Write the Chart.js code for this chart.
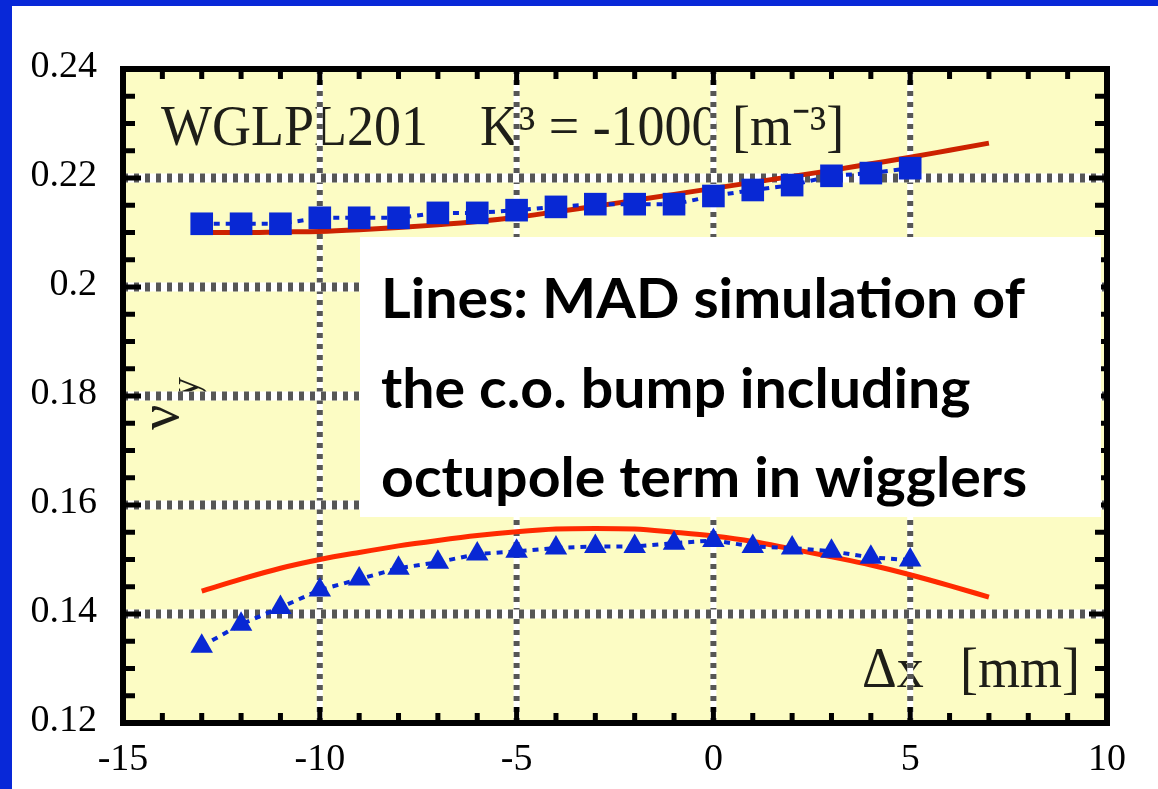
<!DOCTYPE html>
<html>
<head>
<meta charset="utf-8">
<title>WGLPL201 tune vs bump</title>
<script src="https://cdn.jsdelivr.net/npm/chart.js@4/dist/chart.umd.min.js"></script>
<style>
  html, body { margin: 0; padding: 0; background: #fff; }
  #frame {
    width: 1158px;
    height: 789px;
    box-sizing: border-box;
    border-top: 6px solid #0828d8;
    border-left: 12px solid #0828d8;
    background: #fff;
  }
  canvas { display: block; }
</style>
</head>
<body>
<div id="frame"><canvas id="tuneChart" width="1146" height="783"></canvas></div>
<script>
// measured points: bump amplitude [mm]
const bumpX = [-13, -12, -11, -10, -9, -8, -7, -6, -5, -4, -3, -2, -1, 0, 1, 2, 3, 4, 5];
const tuneSquares = [
  0.2116, 0.2116, 0.2116, 0.2127, 0.2127, 0.2127, 0.2136, 0.2136, 0.2141, 0.2147,
  0.2152, 0.2152, 0.2152, 0.2167, 0.2178, 0.2187, 0.2204, 0.2209, 0.2218,
];
const tuneTriangles = [
  0.1341, 0.1381, 0.1412, 0.1444, 0.1464, 0.1484, 0.1495, 0.151, 0.1515, 0.1521,
  0.1524, 0.1524, 0.153, 0.1535, 0.1524, 0.1521, 0.1515, 0.1504, 0.1499,
];

// MAD simulation
const madX = [-13, -12, -11, -10, -9, -8, -7, -6, -5, -4, -3, -2, -1, 0, 1, 2, 3, 4, 5, 6, 7];
const madUpper = [
  0.21, 0.21, 0.2101, 0.2102, 0.2105, 0.2109, 0.2114, 0.212, 0.2128, 0.2138, 0.2148,
  0.2159, 0.217, 0.2181, 0.2192, 0.2203, 0.2214, 0.2226, 0.2238, 0.2251, 0.2264,
];
const madLower = [
  0.1442, 0.1464, 0.1484, 0.15, 0.1513, 0.1525, 0.1535, 0.1544, 0.1551, 0.1556, 0.1557,
  0.1556, 0.155, 0.1543, 0.1533, 0.1519, 0.1505, 0.149, 0.1472, 0.1452, 0.1431,
];

// axes
const xTicks = [-15, -10, -5, 0, 5, 10];
const yTicks = [0.12, 0.14, 0.16, 0.18, 0.2, 0.22, 0.24];
const xMinorStep = 1;
const yMinorStep = 0.005;

const noteLines = [
  "Lines: MAD simulation of",
  "the c.o. bump including",
  "octupole term in wigglers",
];

const blue = "#0828d4";
const tickFont = { family: "'Liberation Serif', 'DejaVu Serif', serif", size: 38 };

function toPoints(xs, ys) {
  return xs.map((x, i) => ({ x: x, y: ys[i] }));
}

function minorValues(min, max, step) {
  const out = [];
  const n = Math.round((max - min) / step);
  for (let i = 1; i < n; i++) out.push(+(min + i * step).toFixed(4));
  return out;
}

function stretchedText(ctx, text, x, y, font, sy, align) {
  ctx.save();
  ctx.translate(x, y);
  ctx.scale(1, sy);
  ctx.font = font;
  ctx.textAlign = align || "left";
  ctx.fillText(text, 0, 0);
  ctx.restore();
}

// yellow plot area
const plotBackground = {
  id: "plotBackground",
  beforeDraw(chart) {
    const { ctx, chartArea: a } = chart;
    ctx.save();
    ctx.fillStyle = "#fcfcc4";
    ctx.fillRect(a.left, a.top, a.width, a.height);
    ctx.restore();
  },
};

// title, axis names, then the dotted grid over them
const labelsAndGrid = {
  id: "labelsAndGrid",
  beforeDatasetsDraw(chart) {
    const { ctx, chartArea: a, scales } = chart;
    const serif = "'Liberation Serif', serif";
    ctx.save();
    ctx.fillStyle = "#1e1e18";
    ctx.textBaseline = "alphabetic";
    stretchedText(ctx, "WGLPL201", 149, 139, "54px " + serif, 1.05);
    stretchedText(ctx, "K³ = -1000 [m⁻³]", 468, 139, "54px " + serif, 1.05);
    stretchedText(ctx, "Δx", 850, 681, "54px " + serif, 1.05);
    stretchedText(ctx, "[mm]", 1068, 681, "54px " + serif, 1.05, "right");

    // rotated nu_y
    ctx.save();
    ctx.translate(166, 424);
    ctx.rotate(-Math.PI / 2);
    ctx.textAlign = "left";
    ctx.font = "56px " + serif;
    ctx.fillText("ν", 0, 0);
    ctx.font = "42px " + serif;
    ctx.fillText("y", 32, 20);
    ctx.restore();

    const gridLine = (x1, y1, x2, y2, w) => {
      ctx.lineWidth = w;
      ctx.setLineDash([]);
      ctx.strokeStyle = "#ffffff";
      ctx.beginPath();
      ctx.moveTo(x1, y1);
      ctx.lineTo(x2, y2);
      ctx.stroke();
      ctx.setLineDash([5, 6]);
      ctx.strokeStyle = "#565656";
      ctx.beginPath();
      ctx.moveTo(x1, y1);
      ctx.lineTo(x2, y2);
      ctx.stroke();
    };
    xTicks.slice(1, -1).forEach((v) => {
      const x = scales.x.getPixelForValue(v);
      gridLine(x, a.top, x, a.bottom, 6);
    });
    yTicks.slice(1, -1).forEach((v) => {
      const y = scales.y.getPixelForValue(v);
      gridLine(a.left, y, a.right, y, 9);
    });
    ctx.restore();
  },
};

// black frame with inward ticks on all four sides, then the note box
const frameAndNote = {
  id: "frameAndNote",
  afterDatasetsDraw(chart) {
    const { ctx, chartArea: a, scales } = chart;
    ctx.save();
    ctx.strokeStyle = "#000";
    ctx.lineWidth = 5;
    ctx.setLineDash([]);
    ctx.beginPath();
    minorValues(xTicks[0], xTicks[xTicks.length - 1], xMinorStep).forEach((v) => {
      const x = scales.x.getPixelForValue(v);
      const len = xTicks.includes(v) ? 16 : 10;
      ctx.moveTo(x, a.bottom);
      ctx.lineTo(x, a.bottom - len);
      ctx.moveTo(x, a.top);
      ctx.lineTo(x, a.top + len);
    });
    minorValues(yTicks[0], yTicks[yTicks.length - 1], yMinorStep).forEach((v) => {
      const y = scales.y.getPixelForValue(v);
      const len = yTicks.some((t) => Math.abs(t - v) < 1e-6) ? 18 : 12;
      ctx.moveTo(a.left, y);
      ctx.lineTo(a.left + len, y);
      ctx.moveTo(a.right, y);
      ctx.lineTo(a.right - len, y);
    });
    ctx.stroke();
    ctx.lineWidth = 6;
    ctx.strokeRect(a.left, a.top, a.width, a.height);

    // note box
    const bx = 348, by = 231, bw = 741, bh = 280;
    ctx.fillStyle = "#ffffff";
    ctx.fillRect(bx, by, bw, bh);
    ctx.fillStyle = "#000";
    ctx.font = "bold 56px Lato, 'DejaVu Sans', sans-serif";
    ctx.textAlign = "left";
    ctx.textBaseline = "alphabetic";
    const sx = 644 / ctx.measureText(noteLines[0]).width;
    noteLines.forEach((line, i) => {
      ctx.save();
      ctx.translate(bx + 21, by + 81 + i * 89.5);
      ctx.scale(sx, 1);
      ctx.fillText(line, 0, 0);
      ctx.restore();
    });
    ctx.restore();
  },
};

const chart = new Chart(document.getElementById("tuneChart"), {
  type: "line",
  data: {
    datasets: [
      {
        label: "measured (squares)",
        data: toPoints(bumpX, tuneSquares),
        borderColor: blue,
        backgroundColor: blue,
        borderWidth: 4,
        borderDash: [6, 6],
        pointStyle: "rect",
        pointRadius: 16,
        pointBorderWidth: 0,
        pointBackgroundColor: blue,
        order: 0,
      },
      {
        label: "measured (triangles)",
        data: toPoints(bumpX, tuneTriangles),
        borderColor: blue,
        backgroundColor: blue,
        borderWidth: 4,
        borderDash: [6, 6],
        pointStyle: "triangle",
        pointRadius: 13,
        pointBorderWidth: 0,
        pointBackgroundColor: blue,
        order: 0,
      },
      {
        label: "MAD upper",
        data: toPoints(madX, madUpper),
        borderColor: "#cc2200",
        borderWidth: 5,
        pointRadius: 0,
        cubicInterpolationMode: "monotone",
        order: 1,
      },
      {
        label: "MAD lower",
        data: toPoints(madX, madLower),
        borderColor: "#ff2a00",
        borderWidth: 5,
        pointRadius: 0,
        cubicInterpolationMode: "monotone",
        order: 1,
      },
    ],
  },
  options: {
    responsive: false,
    animation: false,
    layout: { padding: { top: 63, right: 51, left: 0, bottom: 0 } },
    plugins: {
      legend: { display: false },
      tooltip: { enabled: false },
    },
    scales: {
      x: {
        type: "linear",
        min: -15,
        max: 10,
        afterBuildTicks: (scale) => {
          scale.ticks = xTicks.map((v) => ({ value: v }));
        },
        afterFit: (scale) => {
          scale.height = 66;
        },
        grid: { display: false, drawTicks: false },
        border: { display: false },
        ticks: {
          font: tickFont,
          color: "#000",
          padding: 14,
          maxRotation: 0,
          autoSkip: false,
          callback: (v) => String(v),
        },
      },
      y: {
        type: "linear",
        min: 0.12,
        max: 0.24,
        afterBuildTicks: (scale) => {
          scale.ticks = yTicks.map((v) => ({ value: v }));
        },
        afterFit: (scale) => {
          scale.width = 111;
        },
        grid: { display: false, drawTicks: false },
        border: { display: false },
        ticks: {
          font: tickFont,
          color: "#000",
          padding: 26,
          labelOffset: -2,
          autoSkip: false,
          callback: (v) => String(+v.toFixed(2)),
        },
      },
    },
  },
  plugins: [plotBackground, labelsAndGrid, frameAndNote],
});
</script>
</body>
</html>
